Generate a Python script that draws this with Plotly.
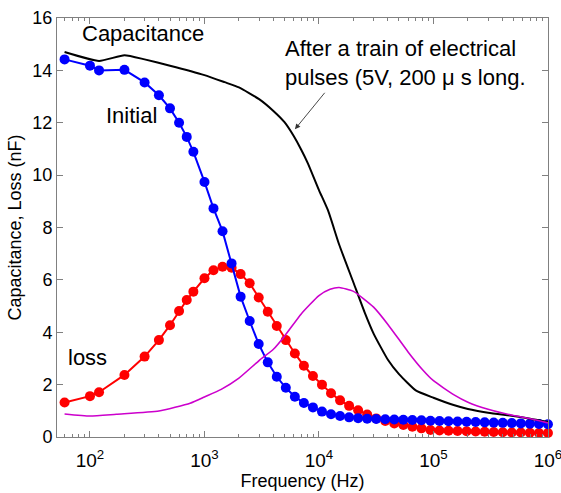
import plotly.graph_objects as go

# Measurement frequencies (Hz) for the initial sweep
freq_hz = [60, 100, 120, 200, 300, 400, 500, 600, 700, 800,
           1000, 1199, 1438, 1725, 2069, 2482, 2976, 3570, 4281, 5135,
           6158, 7386, 8859, 10625, 12743, 15283, 18330, 21984, 26367, 31623,
           37927, 45488, 54556, 65432, 78476, 94121, 112884, 135388, 162378, 194748,
           233572, 280136, 335982, 402961, 483293, 579639, 695193, 833782, 1000000]

# Initial capacitance (nF)
cap_initial = [14.42, 14.18, 14.00, 14.02, 13.54, 13.05, 12.55, 12.00, 11.46, 10.89,
               9.74, 8.73, 7.86, 6.63, 5.36, 4.43, 3.55, 2.85, 2.30, 1.88,
               1.54, 1.30, 1.13, 0.97, 0.87, 0.80, 0.75, 0.72, 0.70, 0.69,
               0.68, 0.67, 0.66, 0.65, 0.64, 0.62, 0.61, 0.60, 0.59, 0.58,
               0.57, 0.56, 0.55, 0.54, 0.53, 0.52, 0.51, 0.50, 0.49]

# Initial loss (nF)
loss_initial = [1.32, 1.56, 1.71, 2.37, 3.07, 3.70, 4.27, 4.81, 5.23, 5.55,
                6.06, 6.37, 6.50, 6.46, 6.22, 5.87, 5.33, 4.78, 4.24, 3.70,
                3.19, 2.72, 2.33, 2.00, 1.67, 1.40, 1.19, 1.02, 0.86, 0.71,
                0.61, 0.52, 0.46, 0.39, 0.33, 0.27, 0.25, 0.24, 0.23, 0.22,
                0.21, 0.20, 0.19, 0.18, 0.17, 0.17, 0.16, 0.15, 0.15]

# Capacitance after the pulse train
after_cap_freq = [60, 120, 200, 300, 500, 1000, 1500, 2000, 3000, 4000, 5000, 6000, 7000,
                  8000, 10000, 12000, 15000, 20000, 25000, 30000, 40000, 50000, 70000,
                  100000, 150000, 200000, 300000, 500000, 700000, 1000000]
after_cap = [14.70, 14.36, 14.58, 14.42, 14.18, 13.82, 13.55, 13.35, 12.90, 12.45, 12.02,
             11.50, 10.97, 10.45, 9.43, 8.65, 7.35, 5.90, 4.77, 3.95, 2.95, 2.40, 1.78,
             1.50, 1.22, 1.07, 0.93, 0.80, 0.70, 0.57]

# Loss after the pulse train
after_loss_freq = [60, 100, 170, 400, 750, 1000, 1400, 2000, 3000, 4000, 5000, 7000, 10000,
                   12500, 15000, 20000, 30000, 40000, 60000, 80000, 100000, 150000, 200000,
                   300000, 500000, 700000, 1000000]
after_loss = [0.88, 0.80, 0.87, 0.99, 1.29, 1.53, 1.82, 2.25, 2.92, 3.35, 3.85, 4.70, 5.40,
              5.64, 5.71, 5.56, 4.96, 4.30, 3.25, 2.58, 2.15, 1.62, 1.33, 1.06, 0.82, 0.70, 0.54]

y_ticks = [0, 2, 4, 6, 8, 10, 12, 14, 16]
x_ticks = [100, 1000, 10000, 100000, 1000000]
x_tick_text = ["10<sup>2</sup>", "10<sup>3</sup>", "10<sup>4</sup>", "10<sup>5</sup>", "10<sup>6</sup>"]
x_minor = [m * 10 ** e for e in range(1, 6) for m in range(2, 10) if 50 <= m * 10 ** e <= 1000000]

FONT = "Liberation Sans, Arial, Helvetica, sans-serif"
AXIS_GRAY = "#808080"

fig = go.Figure()

fig.add_trace(go.Scatter(
    x=freq_hz, y=loss_initial, mode="lines+markers",
    line=dict(color="#ff0000", width=2),
    marker=dict(color="#ff0000", size=10),
    cliponaxis=False, showlegend=False))

fig.add_trace(go.Scatter(
    x=freq_hz, y=cap_initial, mode="lines+markers",
    line=dict(color="#0000ff", width=2),
    marker=dict(color="#0000ff", size=10),
    cliponaxis=False, showlegend=False))

fig.add_trace(go.Scatter(
    x=after_cap_freq, y=after_cap, mode="lines",
    line=dict(color="#000000", width=2, shape="spline", smoothing=0.5),
    showlegend=False))

fig.add_trace(go.Scatter(
    x=after_loss_freq, y=after_loss, mode="lines",
    line=dict(color="#cc00cc", width=1.6, shape="spline", smoothing=0.5),
    showlegend=False))

label_font = dict(family=FONT, size=22, color="#000000")

fig.add_annotation(x=2.467, y=15.41, text="Capacitance", showarrow=False,
                   font=label_font, xanchor="center", yanchor="middle")
fig.add_annotation(x=2.367, y=12.26, text="Initial", showarrow=False,
                   font=label_font, xanchor="center", yanchor="middle")
fig.add_annotation(x=1.978, y=3.05, text="loss", showarrow=False,
                   font=label_font, xanchor="center", yanchor="middle")
fig.add_annotation(x=3.686, y=14.3,
                   text="After a train of electrical<br>pulses (5V, 200 μ s long.",
                   showarrow=False, font=label_font, xanchor="left", yanchor="middle",
                   align="left")
# Arrow pointing at the post-pulse capacitance curve
fig.add_annotation(x=3.790, y=11.75, text="", showarrow=True,
                   ax=31, ay=-38, arrowhead=2, arrowsize=1.2, arrowwidth=0.9,
                   arrowcolor="#333333")

fig.update_xaxes(
    type="log", range=[1.712, 6.0004],
    tickvals=x_ticks, ticktext=x_tick_text,
    ticks="inside", ticklen=6, tickcolor=AXIS_GRAY, tickwidth=1,
    ticklabelstandoff=6, ticklabeloverflow="allow",
    minor=dict(tickvals=x_minor, ticks="inside", ticklen=3, tickcolor=AXIS_GRAY),
    showline=True, linecolor=AXIS_GRAY, linewidth=1, mirror="ticks",
    showgrid=False, zeroline=False, automargin=False,
    tickfont=dict(family=FONT, size=19, color="#000000"),
    title=dict(text="Frequency (Hz)", font=dict(family=FONT, size=18, color="#000000"),
               standoff=3),
)
fig.update_yaxes(
    range=[0, 16], tickvals=y_ticks,
    ticks="inside", ticklen=6, tickcolor=AXIS_GRAY, tickwidth=1,
    showline=True, linecolor=AXIS_GRAY, linewidth=1, mirror="ticks",
    showgrid=False, zeroline=False, automargin=False,
    tickfont=dict(family=FONT, size=18, color="#000000"),
    title=dict(text="Capacitance, Loss (nF)", font=dict(family=FONT, size=18, color="#000000"),
               standoff=6),
)

fig.update_layout(
    width=561, height=493,
    margin=dict(l=57, r=13, t=18, b=56),
    plot_bgcolor="#ffffff", paper_bgcolor="#ffffff",
    showlegend=False,
)

fig.write_html("out.html")
